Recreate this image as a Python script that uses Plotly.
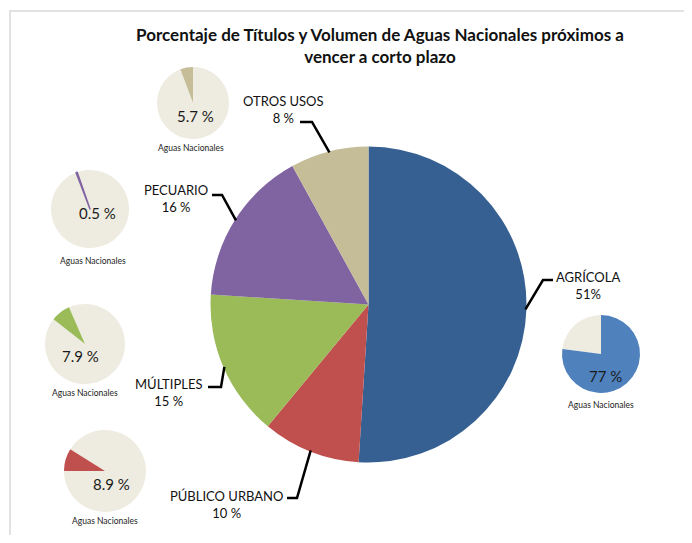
import math
import plotly.graph_objects as go

# ---------------- data ----------------
categories = ["AGRÍCOLA", "PÚBLICO URBANO", "MÚLTIPLES", "PECUARIO", "OTROS USOS"]
title_shares = [51, 10, 15, 16, 8]
share_labels = ["51%", "10 %", "15 %", "16 %", "8 %"]
aguas_pct = [77, 8.9, 7.9, 0.5, 5.7]
aguas_labels = ["77 %", "8.9 %", "7.9 %", "0.5 %", "5.7 %"]
small_caption = "Aguas Nacionales"
title_text = "Porcentaje de Títulos y Volumen de Aguas Nacionales próximos a<br>vencer a corto plazo"

# ---------------- style / layout ----------------
WIN_W, WIN_H = 692, 543
OFF = 8  # page body margin
W, H = WIN_W - 2 * OFF, WIN_H - 2 * OFF
main_colors = ["#376092", "#C0504D", "#9BBB59", "#8064A2", "#C4BD97"]
small_colors = ["#4F81BD", "#C0504D", "#9BBB59", "#8064A2", "#C4BD97"]
rest_color = "#EEECE1"
FONT = "Lato"

main_center = (368.5, 304.5)
main_r = 158

# small pies: center px, radius px, angle (deg, clockwise from 12 o'clock) where
# the coloured slice starts ("a0"); it runs clockwise from there
small_cfg = [
    dict(c=(601, 354), r=39, a0=0, t=(605, 376), cap=(601, 405), lw=0),
    dict(c=(105, 471), r=41, a0=-90, t=(111, 484), cap=(105, 521), lw=0),
    dict(c=(85, 344), r=40, a0=-52, t=(80, 356), cap=(85, 393), lw=0),
    dict(c=(90, 209), r=39, a0=-21, t=(97, 213), cap=(93, 261), lw=1.5),
    dict(c=(193, 103), r=36, a0=None, t=(195, 116), cap=(191, 148), lw=0),  # ends at 12 o'clock
]

# label text centre and leader elbow points (px)
label_cfg = [
    dict(t=(588, 285), p0=(553, 280), p1=(543, 280)),
    dict(t=(226, 504), p0=(287, 498), p1=(297, 498)),
    dict(t=(168, 392), p0=(208, 387), p1=(221, 387)),
    dict(t=(176, 198), p0=(212, 195), p1=(222, 195)),
    dict(t=(283, 109), p0=(300, 122), p1=(312, 122)),
]


def fx(x):
    return (x - OFF) / W


def fy(y):
    return 1 - (y - OFF) / H


def domain(c, r):
    cx, cy = c
    return dict(x=[fx(cx - r), fx(cx + r)], y=[fy(cy + r), fy(cy - r)])


fig = go.Figure()

# main pie
fig.add_trace(go.Pie(
    labels=categories, values=title_shares, sort=False, direction="clockwise",
    rotation=0, marker=dict(colors=main_colors, line=dict(width=0)),
    textinfo="none", hoverinfo="label+percent", showlegend=False,
    domain=domain(main_center, main_r),
))

annotations = []
shapes = []

# small pies
for i, cat in enumerate(categories):
    cfg = small_cfg[i]
    rot = cfg["a0"] if cfg["a0"] is not None else -aguas_pct[i] * 3.6
    fig.add_trace(go.Pie(
        labels=["Resto", cat], values=[100 - aguas_pct[i], aguas_pct[i]], sort=False,
        direction="counterclockwise", rotation=rot + aguas_pct[i] * 3.6,
        marker=dict(colors=[rest_color, small_colors[i]],
                    line=dict(width=[0, cfg["lw"]], color=[rest_color, small_colors[i]])),
        textinfo="none", hoverinfo="label+value", showlegend=False,
        domain=domain(cfg["c"], cfg["r"]),
    ))
    annotations.append(dict(
        x=fx(cfg["t"][0]), y=fy(cfg["t"][1]), xref="paper", yref="paper",
        text=aguas_labels[i], showarrow=False, xanchor="center", yanchor="middle",
        font=dict(family=FONT, size=15, color="#1a1a1a"),
    ))
    annotations.append(dict(
        x=fx(cfg["cap"][0]), y=fy(cfg["cap"][1]), xref="paper", yref="paper",
        text=small_caption, showarrow=False, xanchor="center", yanchor="middle",
        font=dict(family=FONT, size=8.5, color="#222222"),
    ))

# labels + leader lines for main pie
total = sum(title_shares)
cum = 0
cx, cy = main_center
for i, cat in enumerate(categories):
    mid = (cum + title_shares[i] / 2) / total * 2 * math.pi
    cum += title_shares[i]
    ex = cx + (main_r - 1) * math.sin(mid)
    ey = cy - (main_r - 1) * math.cos(mid)
    lc = label_cfg[i]
    path = "M {:.4f},{:.4f} L {:.4f},{:.4f} L {:.4f},{:.4f}".format(
        fx(lc["p0"][0]), fy(lc["p0"][1]), fx(lc["p1"][0]), fy(lc["p1"][1]), fx(ex), fy(ey))
    shapes.append(dict(type="path", path=path, xref="paper", yref="paper",
                       line=dict(color="black", width=2.5)))
    annotations.append(dict(
        x=fx(lc["t"][0]), y=fy(lc["t"][1]), xref="paper", yref="paper",
        text=cat + "<br>" + share_labels[i], showarrow=False,
        xanchor="center", yanchor="middle", align="center",
        font=dict(family=FONT, size=13, color="#111111"),
    ))

# frame
shapes.append(dict(type="path", xref="paper", yref="paper",
                   path="M {:.4f},{:.4f} L {:.4f},{:.4f} L {:.4f},{:.4f} L {:.4f},{:.4f}".format(
                       fx(10), 0, fx(10), fy(11), fx(689), fy(11), fx(689), 0),
                   line=dict(color="#D9D9D9", width=1.5), layer="below"))

fig.update_layout(
    width=W, height=H, margin=dict(l=0, r=0, t=0, b=0),
    paper_bgcolor="white", plot_bgcolor="white",
    title=dict(text="<b>" + title_text + "</b>", x=fx(380), xanchor="center",
               y=fy(41), yanchor="middle",
               font=dict(family=FONT, size=17, color="#111111")),
    annotations=annotations, shapes=shapes, showlegend=False,
)

fig.write_html("out.html")
